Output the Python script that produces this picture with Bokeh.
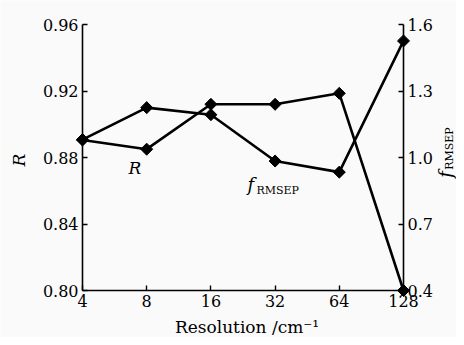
import math
import numpy as np
from bokeh.plotting import figure
from bokeh.models import Range1d, LinearAxis, FixedTicker, Label
from bokeh.embed import file_html
from bokeh.resources import INLINE

resolution = [4, 8, 16, 32, 64, 128]
r_values = [0.8905, 0.885, 0.912, 0.912, 0.9186, 0.800]
f_rmsep = [1.081, 1.225, 1.193, 0.984, 0.934, 1.526]
x_ticks = [4, 8, 16, 32, 64, 128]
r_ticks = [0.80, 0.84, 0.88, 0.92, 0.96]
f_ticks = [0.4, 0.7, 1.0, 1.3, 1.6]

SERIF = "DejaVu Serif"
BG = "#fafafa"

# canvas geometry (pixels)
W, H = 456, 337
AX_L, AX_R, AX_T, AX_B = 82, 403, 24, 290
X0, X1 = x_ticks[0], x_ticks[-1]
R0, R1 = r_ticks[0], r_ticks[-1]
F0, F1 = f_ticks[0], f_ticks[-1]

oct_px = (AX_R - AX_L) / math.log2(X1 / X0)
r_per = (R1 - R0) / (AX_B - AX_T)
f_per = (F1 - F0) / (AX_B - AX_T)

def px2x(px):
    return X0 * 2 ** ((px - AX_L) / oct_px)

def py2y(py):
    return R0 + (AX_B - py) * r_per

x_range = Range1d(px2x(0), px2x(W))
y_range = Range1d(py2y(H), py2y(0))
f_range = Range1d(F0 - (H - AX_B) * f_per, F1 + AX_T * f_per)

p = figure(frame_width=W, frame_height=H, min_border=0,
           x_axis_type="log", x_range=x_range, y_range=y_range,
           output_backend="svg", toolbar_location=None)
p.extra_y_ranges = {"f": f_range}
p.background_fill_color = BG
p.border_fill_color = BG
p.outline_line_color = None
p.grid.visible = False

right = LinearAxis(y_range_name="f")
p.add_layout(right, "right")

xa, ya = p.xaxis[0], p.yaxis[0]
xa.fixed_location = R0
xa.bounds = (X0, X1)
ya.fixed_location = X0
ya.bounds = (R0, R1)
right.fixed_location = X1
right.bounds = (F0, F1)

for ax in [xa, ya, right]:
    ax.major_tick_in = 5
    ax.major_tick_out = 0
    ax.minor_tick_in = 0
    ax.minor_tick_out = 0
    ax.axis_line_width = 1.6
    ax.major_tick_line_width = 1.4
    ax.axis_line_color = "black"
    ax.major_tick_line_color = "black"
    ax.major_label_text_font = SERIF
    ax.major_label_text_font_size = "16px"
    ax.major_label_text_color = "black"
    ax.major_label_standoff = 4

xa.ticker = FixedTicker(ticks=x_ticks)
xa.major_label_overrides = {t: str(t) for t in x_ticks}
xa.major_label_standoff = 4
ya.ticker = FixedTicker(ticks=r_ticks)
ya.major_label_overrides = {t: f"{t:.2f}" for t in r_ticks}
right.ticker = FixedTicker(ticks=f_ticks)
right.major_label_overrides = {t: f"{t:.1f}" for t in f_ticks}

# R line (left axis)
p.line(resolution, r_values, line_color="black", line_width=2.6)
p.scatter(resolution, r_values, marker="square", angle=np.pi / 4, size=8.5,
          fill_color="black", line_color="black")
# f_RMSEP line (right axis)
p.line(resolution, f_rmsep, line_color="black", line_width=2.6, y_range_name="f")
p.scatter(resolution, f_rmsep, marker="square", angle=np.pi / 4, size=8.5,
          fill_color="black", line_color="black", y_range_name="f")

def lab(px, py, text, size, style="normal", angle=0.0, align="center"):
    p.add_layout(Label(x=px2x(px), y=py2y(py), text=text, text_font=SERIF,
                       text_font_size=size, text_font_style=style,
                       text_align=align, text_baseline="middle",
                       angle=angle, text_color="black"))

# in-plot labels
lab(134.5, 167.5, "R", "17px", "italic")
lab(247, 184, "f", "18px", "italic", align="left")
lab(256, 190, "RMSEP", "11px", align="left")
# axis titles
lab(18.5, 159.5, "R", "17px", "italic", angle=np.pi / 2)
lab(445, 174, "f", "18px", "italic", angle=np.pi / 2)
lab(449, 148, "RMSEP", "11px", angle=np.pi / 2)
lab((AX_L + AX_R) / 2 + 4, 326, "Resolution /cm\u207b\u00b9", "17px")

html = file_html(p, INLINE)
html = html.replace("<body>", '<body style="background:%s">' % BG, 1)
open("out.html", "w").write(html)
